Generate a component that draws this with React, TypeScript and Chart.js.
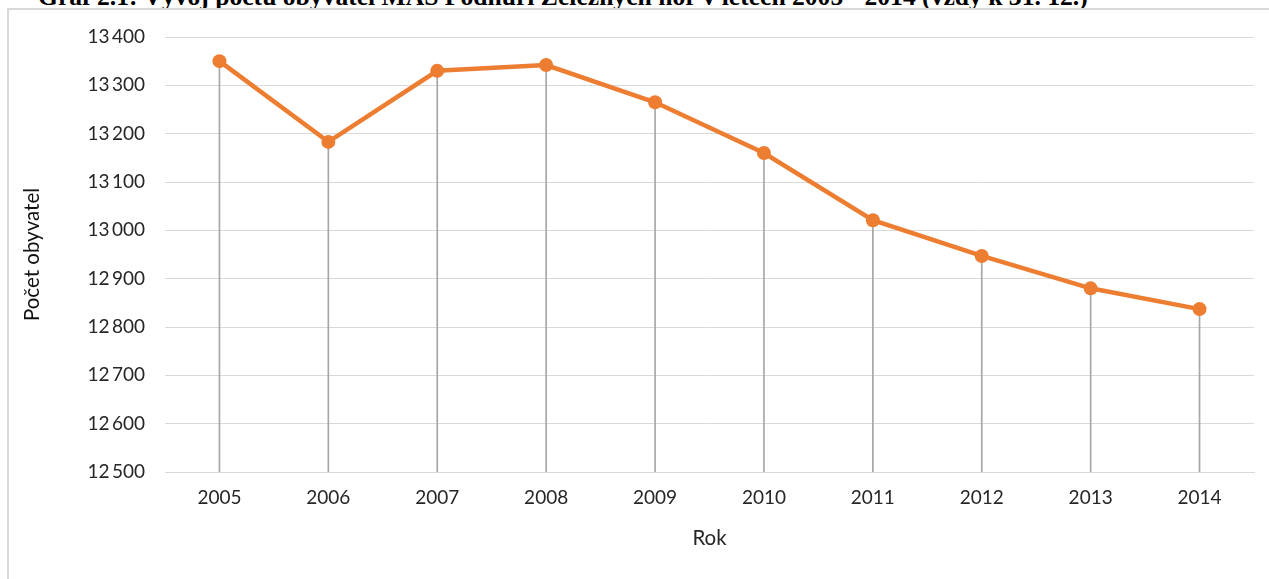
import React, { useEffect, useRef } from "react";
import { Chart, registerables } from "chart.js";

Chart.register(...registerables);

const TITLE = "Graf 2.1: Vývoj počtu obyvatel MAS Podhůří Železných hor v letech 2005 - 2014 (vždy k 31. 12.)";
const years = ["2005", "2006", "2007", "2008", "2009", "2010", "2011", "2012", "2013", "2014"];
const population = [13350, 13183, 13330, 13342, 13265, 13160, 13021, 12947, 12880, 12837];
const yMin = 12500;
const yMax = 13400;
const yStep = 100;
const yTitle = "Počet obyvatel";
const xTitle = "Rok";

const fmt = (v: number) => {
  const s = String(Math.round(v));
  return s.replace(/\B(?=(\d{3})+(?!\d))/g, "\u2009");
};

export default function App() {
  const ref = useRef<HTMLCanvasElement | null>(null);
  useEffect(() => {
    if (!ref.current) return;
    const font = { family: "Lato, 'Open Sans', sans-serif", size: 19 };
    const titleFont = { family: "Lato, 'Open Sans', sans-serif", size: 20.5 };
    const chart = new Chart(ref.current, {
      data: {
        labels: years,
        datasets: [
          {
            type: "line",
            data: population,
            borderColor: "#ED7D31",
            backgroundColor: "#ED7D31",
            borderWidth: 4.5,
            pointRadius: 7,
            pointHoverRadius: 7,
            pointBorderWidth: 0,
            tension: 0,
            order: 1,
          },
          {
            type: "bar",
            data: population,
            backgroundColor: "#a6a6a6",
            barThickness: 1,
            order: 2,
          },
        ],
      } as any,
      options: {
        animation: false,
        responsive: false,
        events: [],
        layout: { padding: { left: 0, right: 15, top: 37, bottom: 0 } },
        plugins: { legend: { display: false }, tooltip: { enabled: false }, title: { display: false } },
        scales: {
          x: {
            stacked: false,
            grid: { display: false, drawTicks: false },
            border: { display: true, color: "#d9d9d9", width: 1 },
            ticks: { color: "#262626", font, padding: 14 },
            title: { display: true, text: xTitle, color: "#262626", font: titleFont, padding: { top: 0, bottom: 28 } },
            afterFit: (s: any) => { s.height = 107; },
          },
          y: {
            min: yMin,
            max: yMax,
            grid: { color: "#d9d9d9", drawTicks: false, lineWidth: 1 },
            border: { display: false },
            ticks: { stepSize: yStep, color: "#262626", font, padding: 20, callback: (v: any) => fmt(Number(v)) },
            title: { display: true, text: yTitle, color: "#111", font: titleFont, padding: { top: 20, bottom: 0 } },
            afterFit: (s: any) => { s.width = 165; },
          },
        },
      } as any,
    });
    return () => chart.destroy();
  }, []);
  return (
    <div style={{ position: "absolute", left: 0, top: 0, width: 1269, height: 579, overflow: "hidden", background: "#fff" }}>
      <div
        style={{
          position: "absolute",
          left: 38,
          top: -16,
          fontFamily: "'Liberation Serif', 'Times New Roman', serif",
          fontWeight: "bold",
          fontSize: 25.6,
          lineHeight: "26px",
          whiteSpace: "nowrap",
          color: "#000",
        }}
      >
        {TITLE}
      </div>
      <div
        style={{
          position: "absolute",
          left: 7,
          top: 8,
          width: 1300,
          height: 600,
          borderLeft: "2px solid #d9d9d9",
          borderTop: "2px solid #d9d9d9",
          background: "#fff",
        }}
      />
      <canvas ref={ref} width={1269} height={579} style={{ position: "absolute", left: 0, top: 0, width: 1269, height: 579 }} />
    </div>
  );
}
